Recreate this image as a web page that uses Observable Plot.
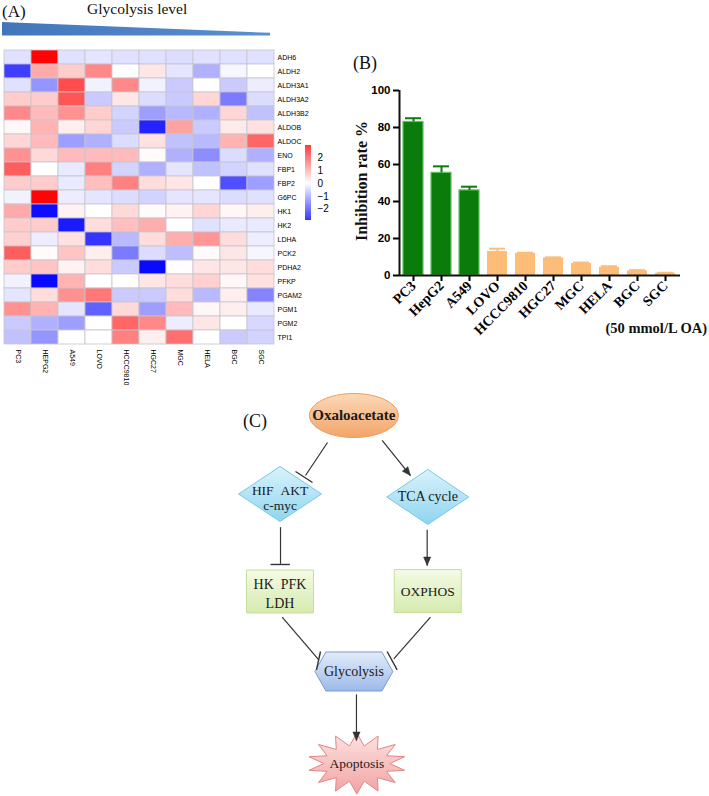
<!DOCTYPE html>
<html><head><meta charset="utf-8">
<script src="https://cdn.jsdelivr.net/npm/d3@7"></script>
<script src="https://cdn.jsdelivr.net/npm/@observablehq/plot@0.6"></script>
<style>
body{margin:0;background:#fff;}
#root{position:relative;width:709px;height:796px;overflow:hidden;background:#fff;}
.wedge{position:absolute;left:2px;top:22px;width:268px;height:13.5px;background:linear-gradient(to right,#4276bb,#5b8fd0);clip-path:polygon(0 0,100% 80%,100% 100%,0 100%);}
</style></head><body>
<svg width="0" height="0" style="position:absolute">
<defs>
<linearGradient id="gOxa" x1="0" y1="0" x2="0" y2="1"><stop offset="0" stop-color="#fcd9b8"/><stop offset="1" stop-color="#f3a469"/></linearGradient>
<linearGradient id="gDia" x1="0" y1="0" x2="0" y2="1"><stop offset="0" stop-color="#d9f3fc"/><stop offset="1" stop-color="#8fd5ef"/></linearGradient>
<linearGradient id="gBox" x1="0" y1="0" x2="0" y2="1"><stop offset="0" stop-color="#f4fbe4"/><stop offset="1" stop-color="#d5ebaf"/></linearGradient>
<linearGradient id="gHex" x1="0" y1="0" x2="0" y2="1"><stop offset="0" stop-color="#e3ecf9"/><stop offset="1" stop-color="#9cbae9"/></linearGradient>
<linearGradient id="gStar" x1="0" y1="0" x2="0" y2="1"><stop offset="0" stop-color="#fde3e3"/><stop offset="1" stop-color="#f2a2a2"/></linearGradient>
</defs></svg>
<div id="root"><div class="wedge"></div></div>
<script>
// ---------- (A) heatmap data ----------
const columns = ["PC3","HEPG2","A549","LOVO","HCCC9810","HGC27","MGC","HELA","BGC","SGC"];
const genes = ["ADH6","ALDH2","ALDH3A1","ALDH3A2","ALDH3B2","ALDOB","ALDOC","ENO","FBP1","FBP2","G6PC","HK1","HK2","LDHA","PCK2","PDHA2","PFKP","PGAM2","PGM1","PGM2","TPI1"];
const ADH6    = [-0.35, 2.95, -0.35, -0.3, -0.35, -0.35, -0.4, -0.35, -0.35, -0.35];
const ALDH2   = [-2.2, 1.0, 0.6, 1.4, 0, 0.3, -0.3, -0.9, -0.1, 0];
const ALDH3A1 = [-0.35, -1.2, 2.1, -0.15, 1.4, -0.15, -0.6, 0, -0.6, -0.2];
const ALDH3A2 = [0.6, 0.6, 2.0, -0.6, 0.3, -0.4, -0.6, 0.5, -1.5, -0.4];
const ALDH3B2 = [1.4, 0.8, 1.3, 0.6, -0.5, -1.1, -0.8, -0.9, 0.5, -0.7];
const ALDOB   = [0.1, 0.9, 0.2, 0.5, -0.6, -2.5, 1.1, -0.6, 0.25, 0.35];
const ALDOC   = [0.5, 0.8, -1.1, -0.9, -0.4, 0.35, -0.7, -0.8, 0.9, 1.8];
const ENO     = [1.3, 0.45, 0.8, 0.8, 0.8, 0.05, -0.9, -1.3, -0.4, -0.9];
const FBP1    = [1.9, 0, -0.25, 1.5, -0.5, -0.9, -0.3, -0.7, -0.5, -0.35];
const FBP2    = [0.6, 0.6, -0.25, 0.75, 1.5, 0.4, 0.3, 0, -2.0, -1.1];
const G6PC    = [-0.15, 2.95, -0.2, -0.3, -0.4, -0.5, -0.3, -0.3, -0.4, -0.35];
const HK1     = [1.0, -2.75, 0.15, 0, 0.45, 0.05, 0.15, 0.5, 0.1, 0.2];
const HK2     = [0.6, 0.6, -2.6, 0.4, 0.75, 0.95, 0, -0.35, -0.25, -0.25];
const LDHA    = [0.55, -0.2, 0.35, -2.3, -0.8, 0.4, 0.95, 1.25, 0.4, -0.2];
const PCK2    = [1.9, 0.05, 0.7, 0.2, -1.5, -0.4, -0.75, 0.05, 0.3, -0.1];
const PDHA2   = [0.6, 0.7, 0.15, 0.4, -0.6, -2.8, 0.02, 0.3, 0.3, 0.4];
const PFKP    = [-0.15, -2.8, 0.9, 0, 0, 0.3, 0.4, 0.55, 0.1, 0.35];
const PGAM2   = [-0.3, 0.4, 1.3, 1.6, -0.6, -0.6, 0.4, -0.8, 0.2, -1.4];
const PGM1    = [1.3, 0.9, -0.3, -1.8, 0.45, -1.1, 0.8, 0.1, 0.2, -0.25];
const PGM2    = [-0.6, -0.9, -1.1, 0, 1.8, 1.4, -0.2, 0.3, 0, -0.45];
const TPI1    = [-0.7, -1.2, 0, 0, 1.5, 0.2, 1.7, 0, -0.6, -0.5];
const geneRows = [ADH6,ALDH2,ALDH3A1,ALDH3A2,ALDH3B2,ALDOB,ALDOC,ENO,FBP1,FBP2,G6PC,HK1,HK2,LDHA,PCK2,PDHA2,PFKP,PGAM2,PGM1,PGM2,TPI1];
const legendTicks = [-2,-1,0,1,2];
const zDomain = [-2.9, 0, 3.0];

// ---------- (B) bar data ----------
const cells = ["PC3","HepG2","A549","LOVO","HCCC9810","HGC27","MGC","HELA","BGC","SGC"];
const inhibition = [83, 55.5, 46, 13, 12, 9.5, 6.5, 4.5, 2.5, 1.2];
const inhibitionErr = [2, 3.5, 2, 1.5, 0.3, 0.3, 0.5, 0.5, 0.4, 0.3];
const glycolysisGroup = ["high","high","high","low","low","low","low","low","low","low"];
const yTicks = [0,20,40,60,80,100];

// ---------- (C) diagram data ----------
const nodeNames = ["Oxaloacetate","HIF\u00a0\u00a0AKT\nc-myc","TCA cycle","HK\u00a0\u00a0PFK\nLDH","OXPHOS","Glycolysis","Apoptosis"];
const nodeCol = [0, -1, 1, -1, 1, 0, 0.04];
const nodeLevel = [0, 0.892, 0.926, 2.0, 1.994, 2.909, 3.955];
const edgeType = ["inhibit","arrow","inhibit","arrow","inhibit","inhibit","arrow"];
const edgeX1 = [-0.357, 0.383, -0.993, 0.992, -0.970, 1.037, 0.035];
const edgeY1 = [0.307, 0.284, 1.269, 1.299, 2.292, 2.292, 3.170];
const edgeX2 = [-0.655, 0.766, -0.993, 0.992, -0.475, 0.540, 0.035];
const edgeY2 = [0.682, 0.682, 1.685, 1.705, 2.776, 2.765, 3.693];
const barX1 = [-0.79, -1.128, -0.452, 0.450];
const barY1 = [0.636, 1.693, 2.682, 2.682];
const barX2 = [-0.56, -0.867, -0.506, 0.586];
const barY2 = [0.761, 1.693, 2.890, 2.890];

const root = document.getElementById("root");
function place(el, left, top){ el.style.position="absolute"; el.style.left=left+"px"; el.style.top=top+"px"; root.appendChild(el); }

const SANS = "Liberation Sans, Arial, sans-serif";
const SERIF = "'Liberation Serif', 'Times New Roman', serif";
const colorOpts = {type:"linear", domain: zDomain, range:["#0000ff","#ffffff","#ff0000"], interpolate:"rgb"};

// heatmap
const table = genes.flatMap((g,i)=> columns.map((c,j)=>({gene:g, line:c, z: geneRows[i][j]})));
const heat = Plot.plot({
  width:310, height:385, marginLeft:4, marginRight:36, marginTop:50, marginBottom:41,
  style:{background:"transparent"},
  x:{domain:columns, padding:0}, y:{domain:genes, padding:0},
  color: colorOpts,
  marks:[
    Plot.cell(table,{x:"line", y:"gene", fill:"z", stroke:"#c6c6cc", strokeWidth:0.8, inset:0}),
    Plot.axisY({anchor:"right", tickSize:0, tickPadding:3, fontSize:7, fontFamily:SANS, label:null}),
    Plot.axisX({anchor:"bottom", tickSize:0, tickPadding:5, tickRotate:90, fontSize:7, fontFamily:SANS, label:null})
  ]
});
place(heat, 0, 0);

// color bar legend
const strips = d3.range(-2.9, 3.0, 0.05).map(v=>({v}));
const cbar = Plot.plot({
  width:60, height:100, marginTop:15, marginBottom:10, marginLeft:15, marginRight:39,
  style:{background:"transparent"},
  x:{domain:[0,1], axis:null}, y:{domain:[zDomain[0], zDomain[2]]},
  color: colorOpts,
  marks:[
    Plot.rect(strips,{x1:0, x2:1, y1:"v", y2:d=>d.v+0.052, fill:"v"}),
    Plot.axisY({anchor:"right", ticks:legendTicks, tickSize:0, tickPadding:6, fontSize:10, fontFamily:SANS, label:null,
      tickFormat:d=> d<0 ? "\u2212"+(-d) : String(d)})
  ]
});
place(cbar, 290, 130);

// bar chart
const barData = cells.map((c,i)=>({cell:c, value:inhibition[i], err:inhibitionErr[i], group:glycolysisGroup[i]}));
const bars = Plot.plot({
  width:369, height:315, marginLeft:59, marginRight:29, marginTop:50, marginBottom:80,
  style:{background:"transparent"},
  x:{domain:cells, paddingInner:0.28, paddingOuter:0.14},
  y:{domain:[0,100]},
  color:{domain:["high","low"], range:["#0b7b0b","#fbbd78"]},
  marks:[
    Plot.barY(barData,{x:"cell", y:"value", fill:"group"}),
    Plot.barY(barData.filter(d=>d.group==="high"),{x:"cell", y:"value", fill:"none", stroke:"#5cc45c", strokeWidth:1.2}),
    Plot.ruleX(barData,{x:"cell", y1:"value", y2:d=>d.value+d.err, stroke:"group", strokeWidth:2}),
    Plot.tickY(barData,{x:"cell", y:d=>d.value+d.err, stroke:"group", strokeWidth:2, insetLeft:2, insetRight:2}),
    Plot.ruleY([0],{strokeWidth:2, stroke:"#111"}),
    Plot.ruleX([cells[0]],{dx:-14, y1:0, y2:100, strokeWidth:2, stroke:"#111"}),
    Plot.axisY({ticks:yTicks, tickSize:6, tickPadding:3, fontSize:11.5, fontWeight:"bold", fontFamily:SANS, strokeWidth:2, label:null}),
    Plot.axisX({tickSize:6, tickPadding:2, tickRotate:-45, fontSize:14, fontWeight:"bold", fontFamily:SERIF, strokeWidth:2, label:null})
  ]
});
place(bars, 340, 40);

// diagram symbols
function ellipseSym(rx, ry){ const k=0.5523; return {draw(c){
  c.moveTo(-rx,0); c.bezierCurveTo(-rx,-ry*k,-rx*k,-ry,0,-ry); c.bezierCurveTo(rx*k,-ry,rx,-ry*k,rx,0);
  c.bezierCurveTo(rx,ry*k,rx*k,ry,0,ry); c.bezierCurveTo(-rx*k,ry,-rx,ry*k,-rx,0); c.closePath(); }}; }
function polySym(pts){ return {draw(c){ pts.forEach(([x,y],i)=> i ? c.lineTo(x,y) : c.moveTo(x,y)); c.closePath(); }}; }
function starPts(n, rxo, ryo, rxi, ryi){ const p=[]; for(let i=0;i<2*n;i++){ const a=-Math.PI/2+i*Math.PI/n; const o=i%2===0; p.push([(o?rxo:rxi)*Math.cos(a),(o?ryo:ryi)*Math.sin(a)]);} return p; }
const arrowHead = polySym([[0,0],[3.6,8.5],[-3.6,8.5]]);
const shapes = [
  {sym: ellipseSym(44.5,22), fill:"url(#gOxa)", stroke:"#ef9c5c"},
  {sym: polySym([[0,-27.5],[41.5,0],[0,27.5],[-41.5,0]]), fill:"url(#gDia)", stroke:"#7cc6e4"},
  {sym: polySym([[0,-27.5],[41,0],[0,27.5],[-41,0]]), fill:"url(#gDia)", stroke:"#7cc6e4"},
  {sym: polySym([[-33.5,-21.5],[33.5,-21.5],[33.5,21.5],[-33.5,21.5]]), fill:"url(#gBox)", stroke:"#c4df9a"},
  {sym: polySym([[-33.5,-21.5],[33.5,-21.5],[33.5,21.5],[-33.5,21.5]]), fill:"url(#gBox)", stroke:"#c4df9a"},
  {sym: polySym([[-39,0],[-28,-19.5],[28,-19.5],[39,0],[28,19.5],[-28,19.5]]), fill:"url(#gHex)", stroke:"#7a9bd2"},
  {sym: polySym(starPts(14,49,30.5,33,18)), fill:"url(#gStar)", stroke:"#e38585"}
];
const xPx = (197.25-49.5)/2, yPx = (407-55)/4;
const nodes = nodeNames.map((n,i)=>({name:n, col:nodeCol[i], level:nodeLevel[i]}));
const edges = edgeType.map((t,i)=>({type:t, x1:edgeX1[i], y1:edgeY1[i], x2:edgeX2[i], y2:edgeY2[i],
  angle: Math.atan2((edgeX2[i]-edgeX1[i])*xPx, -(edgeY2[i]-edgeY1[i])*yPx)*180/Math.PI}));
const tbars = barX1.map((x,i)=>({x1:x, y1:barY1[i], x2:barX2[i], y2:barY2[i]}));
const textStyle = [
  {fontSize:15, fontWeight:"bold", lineHeight:1, dy:0},
  {fontSize:13.5, fontWeight:"normal", lineHeight:1.05, dy:4},
  {fontSize:14, fontWeight:"normal", lineHeight:1, dy:0},
  {fontSize:14, fontWeight:"normal", lineHeight:1.35, dy:1},
  {fontSize:13.5, fontWeight:"normal", lineHeight:1, dy:1},
  {fontSize:14, fontWeight:"normal", lineHeight:1, dy:0},
  {fontSize:13.5, fontWeight:"normal", lineHeight:1, dy:0}
];
const arrows = edges.filter(e=>e.type==="arrow");
const diagram = Plot.plot({
  width:300, height:436, style:{background:"transparent"},
  x:{domain:[-1,1], range:[49.5,197.25], axis:null},
  y:{domain:[0,4], range:[55,407], axis:null},
  marks:[
    ...nodes.map((d,i)=> Plot.dot([d],{x:"col", y:"level", symbol:shapes[i].sym, fill:shapes[i].fill, stroke:shapes[i].stroke, strokeWidth:1})),
    Plot.link(arrows,{x1:"x1",y1:"y1",x2:"x2",y2:"y2", stroke:"#333", strokeWidth:1.2}),
    Plot.dot(arrows,{x:"x2", y:"y2", symbol:arrowHead, rotate:"angle", fill:"#333", stroke:"#333", strokeWidth:0.5}),
    Plot.link(edges.filter(e=>e.type==="inhibit"),{x1:"x1",y1:"y1",x2:"x2",y2:"y2", stroke:"#333", strokeWidth:1.2}),
    Plot.link(tbars,{x1:"x1",y1:"y1",x2:"x2",y2:"y2", stroke:"#333", strokeWidth:1.4}),
    ...nodes.map((d,i)=> Plot.text([d],{x:"col", y:"level", text:"name", fontFamily:SERIF, fill:"#1a1a1a",
        fontSize:textStyle[i].fontSize, fontWeight:textStyle[i].fontWeight, lineHeight:textStyle[i].lineHeight, dy:textStyle[i].dy}))
  ]
});
place(diagram, 230, 360);

// text overlay (panel letters, titles)
const ns = "http://www.w3.org/2000/svg";
const ov = document.createElementNS(ns,"svg");
ov.setAttribute("width",709); ov.setAttribute("height",796);
ov.style.position="absolute"; ov.style.left="0"; ov.style.top="0"; ov.style.pointerEvents="none";
function txt(s, x, y, size, opts={}){
  const t = document.createElementNS(ns,"text");
  t.textContent = s; t.setAttribute("x",x); t.setAttribute("y",y);
  t.style.fontFamily = opts.family || SERIF; t.setAttribute("font-size", size);
  if(opts.weight) t.setAttribute("font-weight", opts.weight);
  if(opts.anchor) t.setAttribute("text-anchor", opts.anchor);
  if(opts.rotate) t.setAttribute("transform", `rotate(${opts.rotate} ${x} ${y})`);
  t.setAttribute("fill", "#111");
  ov.appendChild(t);
}
txt("(A)", 2, 17, 17);
txt("Glycolysis level", 87, 13.5, 15.5);
txt("(B)", 353, 69, 18);
txt("Inhibition rate %", 367, 181, 16, {weight:"bold", anchor:"middle", rotate:-90});
txt("(50 mmol/L OA)", 707, 333, 14.5, {weight:"bold", anchor:"end"});
txt("(C)", 243, 427, 18);
root.appendChild(ov);
</script>
</body></html>
